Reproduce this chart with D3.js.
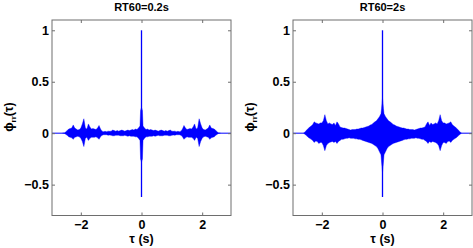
<!DOCTYPE html>
<html>
<head>
<meta charset="utf-8">
<script src="https://cdn.jsdelivr.net/npm/d3@7"></script>
<style>
  body { margin: 0; background: #fff; }
  text { font-family: "Liberation Sans", Arial, sans-serif; font-weight: bold; }
</style>
</head>
<body>
<div id="chart"></div>
<script>
// positive lags (s); the autocorrelation is symmetric so the negative side mirrors it
var tauHalf = [0, 0.03, 0.05, 0.10, 0.15, 0.20, 0.25, 0.30, 0.35, 0.40, 0.45, 0.50, 0.55, 0.60,
    0.65, 0.70, 0.75, 0.80, 0.85, 0.90, 0.95, 1.00, 1.05, 1.10, 1.15, 1.20, 1.25, 1.30,
    1.35, 1.40, 1.45, 1.50, 1.55, 1.60, 1.65, 1.70, 1.75, 1.80, 1.85, 1.90, 1.95, 2.00,
    2.05, 2.10, 2.15, 2.20, 2.25, 2.30, 2.35, 2.40, 2.45, 2.50, 2.55, 2.60];

var titles = ["RT60=0.2s", "RT60=2s"];

// envelope of phi_rr for RT60 = 0.2 s
var upperShort = [0.25, 0.22, 0.07, 0.05, 0.035, 0.04, 0.03, 0.035, 0.03, 0.025, 0.03, 0.025, 0.02, 0.025,
    0.03, 0.025, 0.02, 0.025, 0.02, 0.025, 0.03, 0.02, 0.018, 0.02, 0.015, 0.018, 0.015, 0.02,
    0.04, 0.075, 0.05, 0.035, 0.04, 0.045, 0.04, 0.06, 0.09, 0.04, 0.05, 0.14, 0.09, 0.05,
    0.035, 0.03, 0.04, 0.05, 0.08, 0.05, 0.045, 0.04, 0.025, 0.012, 0, 0];
var lowerShort = [-0.28, -0.25, -0.07, -0.05, -0.035, -0.035, -0.03, -0.03, -0.03, -0.025, -0.03, -0.025, -0.02, -0.025,
    -0.025, -0.025, -0.02, -0.02, -0.02, -0.025, -0.025, -0.02, -0.018, -0.02, -0.015, -0.015, -0.015, -0.02,
    -0.035, -0.06, -0.045, -0.035, -0.04, -0.04, -0.04, -0.05, -0.07, -0.04, -0.05, -0.13, -0.08, -0.05,
    -0.035, -0.03, -0.035, -0.04, -0.06, -0.045, -0.04, -0.035, -0.02, -0.01, 0, 0];

// envelope of phi_rr for RT60 = 2 s
var upperLong = [0.34, 0.24, 0.19, 0.16, 0.14, 0.12, 0.11, 0.1, 0.085, 0.08, 0.07, 0.065, 0.06, 0.055,
    0.05, 0.05, 0.045, 0.04, 0.04, 0.035, 0.035, 0.035, 0.03, 0.035, 0.04, 0.045, 0.05, 0.05,
    0.055, 0.06, 0.09, 0.11, 0.075, 0.1, 0.085, 0.09, 0.1, 0.09, 0.12, 0.18, 0.12, 0.1,
    0.1, 0.09, 0.095, 0.1, 0.11, 0.085, 0.07, 0.06, 0.045, 0.03, 0.015, 0];
var lowerLong = [-0.38, -0.28, -0.21, -0.18, -0.15, -0.13, -0.12, -0.11, -0.1, -0.095, -0.09, -0.085, -0.08, -0.075,
    -0.07, -0.065, -0.06, -0.06, -0.055, -0.055, -0.05, -0.05, -0.05, -0.045, -0.05, -0.05, -0.055, -0.06,
    -0.06, -0.07, -0.08, -0.1, -0.08, -0.09, -0.08, -0.085, -0.09, -0.1, -0.12, -0.17, -0.12, -0.09,
    -0.09, -0.1, -0.08, -0.075, -0.09, -0.07, -0.06, -0.05, -0.04, -0.025, -0.012, 0];

// zero-lag spike
var spikeTop = [1, 1];
var spikeBottom = [-0.62, -0.62];

var xTicks = [-2, 0, 2];
var yTicks = [-0.5, 0, 0.5, 1];
var xLimits = [-2.95, 2.95];
var yLimits = [-0.8, 1.1];

var width = 473, height = 248;
var svg = d3.select("#chart").append("svg")
    .attr("width", width)
    .attr("height", height);

var fmt = function(d) { return d < 0 ? "\u2212" + Math.abs(d) : String(d); };

// negative side = reversed copy of the positive side
function mirror(half) {
    return half.slice(1).reverse().concat(half);
}
var tauFull = tauHalf.slice(1).reverse().map(function(t) { return -t; }).concat(tauHalf);

function drawPanel(left, right, title, upper, lower, spikeIdx) {
    var x = d3.scaleLinear().domain(xLimits).range([left, right]);
    var y = d3.scaleLinear().domain(yLimits).range([215.5, 20]);

    var g = svg.append("g");

    var up = mirror(upper), lo = mirror(lower);
    var pts = tauFull.map(function(t, i) { return { t: t, u: up[i], l: lo[i] }; });

    // zero line
    g.append("line")
        .attr("x1", x(xLimits[0])).attr("x2", x(xLimits[1]))
        .attr("y1", y(0)).attr("y2", y(0))
        .attr("stroke", "#0000ff").attr("stroke-width", 1);

    var area = d3.area()
        .x(function(d) { return x(d.t); })
        .y0(function(d) { return y(d.l); })
        .y1(function(d) { return y(d.u); });

    g.append("path")
        .datum(pts)
        .attr("d", area)
        .attr("fill", "#0000ff")
        .attr("stroke", "#0000ff")
        .attr("stroke-width", 0.4);

    g.append("line")
        .attr("x1", x(0)).attr("x2", x(0))
        .attr("y1", y(spikeBottom[spikeIdx])).attr("y2", y(spikeTop[spikeIdx]))
        .attr("stroke", "#0000ff").attr("stroke-width", 1.3);

    // box
    g.append("rect")
        .attr("x", left).attr("y", 20)
        .attr("width", right - left).attr("height", 195.5)
        .attr("fill", "none").attr("stroke", "#6e6e6e").attr("stroke-width", 1);

    var bottom = g.append("g").attr("transform", "translate(0,215.5)")
        .call(d3.axisBottom(x).tickValues(xTicks).tickFormat(fmt)
            .tickSizeInner(-3).tickSizeOuter(0).tickPadding(5));
    var top = g.append("g").attr("transform", "translate(0,20)")
        .call(d3.axisTop(x).tickValues(xTicks).tickFormat("")
            .tickSizeInner(-3).tickSizeOuter(0));
    var leftAx = g.append("g").attr("transform", "translate(" + left + ",0)")
        .call(d3.axisLeft(y).tickValues(yTicks).tickFormat(fmt)
            .tickSizeInner(-3).tickSizeOuter(0).tickPadding(3));
    var rightAx = g.append("g").attr("transform", "translate(" + right + ",0)")
        .call(d3.axisRight(y).tickValues(yTicks).tickFormat("")
            .tickSizeInner(-3).tickSizeOuter(0));

    [bottom, top, leftAx, rightAx].forEach(function(a) {
        a.select(".domain").remove();
        a.selectAll(".tick line").attr("stroke", "#6e6e6e");
        a.selectAll("text").attr("font-size", 12.5).attr("font-weight", "bold")
            .attr("font-family", "'Liberation Sans', Arial, sans-serif").attr("fill", "#000");
    });

    svg.append("text")
        .attr("x", (left + right) / 2).attr("y", 11)
        .attr("text-anchor", "middle").attr("font-size", 11)
        .text(title);

    svg.append("text")
        .attr("x", (left + right) / 2).attr("y", 243)
        .attr("text-anchor", "middle").attr("font-size", 12.5)
        .text("\u03c4 (s)");

    var yl = svg.append("text")
        .attr("transform", "translate(" + (left - 39) + ",117) rotate(-90)")
        .attr("text-anchor", "middle").attr("font-size", 12.5);
    yl.append("tspan").text("\u03d5");
    yl.append("tspan").attr("font-size", 8).attr("dy", 3).text("rr");
    yl.append("tspan").attr("dy", -3).text("(\u03c4)");
}

drawPanel(52, 231, titles[0], upperShort, lowerShort, 0);
drawPanel(293, 472, titles[1], upperLong, lowerLong, 1);
</script>
</body>
</html>
